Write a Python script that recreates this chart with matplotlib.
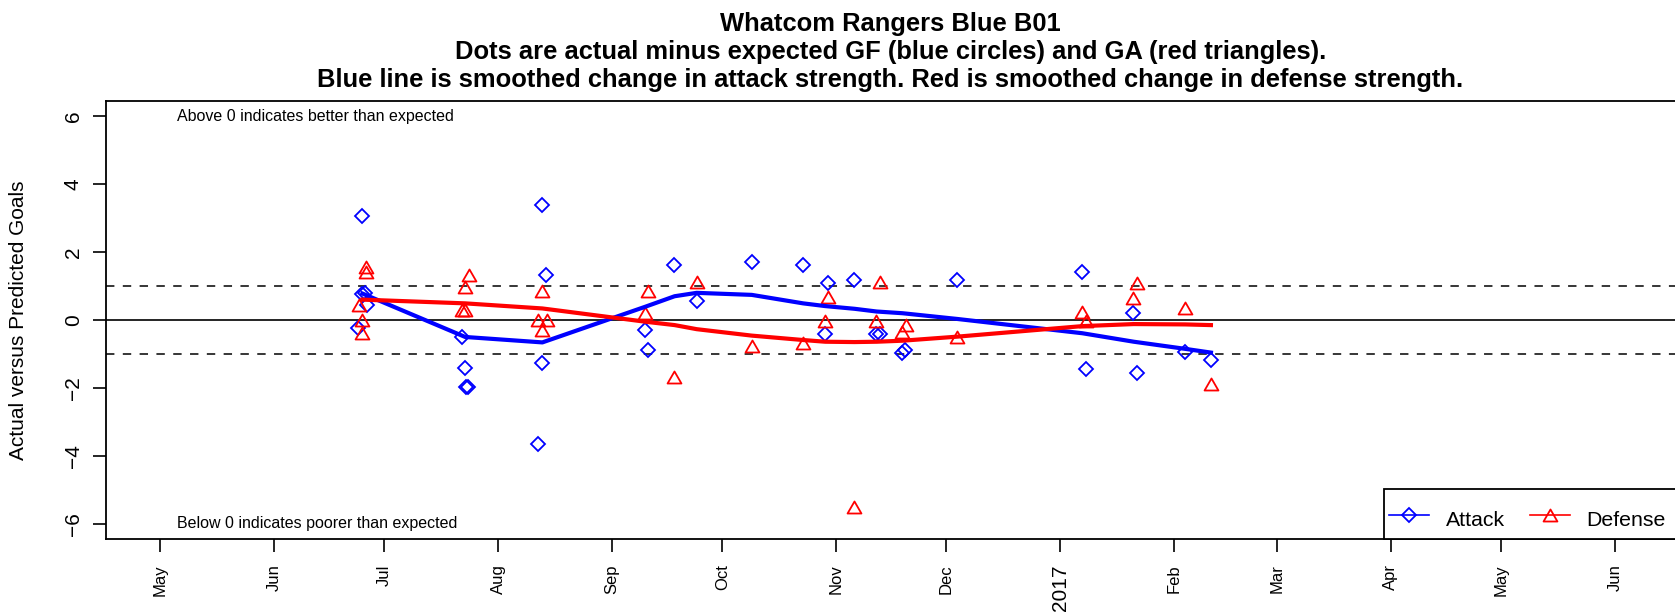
import matplotlib
matplotlib.use('Agg')
import matplotlib.pyplot as plt
from matplotlib.lines import Line2D
from matplotlib.patches import Rectangle
from matplotlib.path import Path
import numpy as np
import pandas as pd

plt.rcParams['font.family'] = ['Liberation Sans', 'DejaVu Sans']

title_lines = ['Whatcom Rangers Blue B01',
               'Dots are actual minus expected GF (blue circles) and GA (red triangles).',
               'Blue line is smoothed change in attack strength. Red is smoothed change in defense strength.']

# one entry per game
game_dates = ['2016-06-25'] * 5 + ['2016-07-23'] * 4 + ['2016-08-13'] * 4 + ['2016-09-10'] * 2 + \
             ['2016-09-18', '2016-09-24', '2016-10-09', '2016-10-23'] + ['2016-10-29'] * 2 + \
             ['2016-11-06'] + ['2016-11-12'] * 2 + ['2016-11-19'] * 2 + ['2016-12-04'] + \
             ['2017-01-07'] * 2 + ['2017-01-21'] * 2 + ['2017-02-04', '2017-02-11']

attack = [3.06, 0.78, 0.80, 0.44, -0.25,
          -0.49, -1.42, -1.98, -1.98,
          3.38, 1.34, -1.27, -3.65,
          -0.29, -0.88,
          1.62, 0.56, 1.72, 1.62,
          1.08, -0.42,
          1.18,
          -0.42, -0.42,
          -0.96, -0.88,
          1.18,
          1.42, -1.44,
          0.22, -1.57,
          -0.93, -1.18]
attack_jitter = [-0.2, -0.2, 0.7, 1.2, -1.1,
                 -0.95, -0.05, 0.15, 0.7,
                 0.0, 1.0, 0.0, -1.1,
                 -0.05, 0.85,
                 -0.15, 0.0, 0.0, -0.1,
                 0.85, -0.05,
                 -0.1,
                 -0.2, 0.9,
                 -0.2, 0.7,
                 0.0,
                 -0.2, 0.9,
                 -0.1, 1.0,
                 -0.1, -0.1]

defense = [1.57, 1.42, 0.44, 0.0, -0.39,
           1.32, 0.96, 0.29, 0.29,
           0.86, 0.0, 0.0, -0.29,
           0.86, 0.20,
           -1.67, 1.13, -0.76, -0.69,
           0.69, -0.02,
           -5.51,
           1.11, -0.02,
           -0.15, -0.34,
           -0.51,
           0.24, -0.02,
           1.08, 0.64,
           0.36, -1.88]
defense_jitter = [0.9, 0.9, -0.8, 0.0, 0.0,
                  1.05, -0.05, -0.95, -0.05,
                  0.0, -1.1, 1.2, 0.0,
                  0.85, -0.05,
                  -0.15, 0.0, 0.0, -0.1,
                  0.85, -0.05,
                  -0.1,
                  0.9, -0.2,
                  1.0, 0.0,
                  0.0,
                  -0.2, 0.9,
                  1.0, -0.1,
                  -0.1, -0.1]

# smoothed strength change, one value per tournament / game day
smooth_dates = ['2016-06-25', '2016-07-23', '2016-08-13', '2016-09-10', '2016-09-18', '2016-09-24',
                '2016-10-09', '2016-10-23', '2016-10-29', '2016-11-06', '2016-11-12', '2016-11-19',
                '2016-12-04', '2017-01-07', '2017-01-21', '2017-02-04', '2017-02-11']
attack_smooth = [0.78, -0.50, -0.66, 0.39, 0.70, 0.80, 0.74, 0.49, 0.41, 0.33, 0.25, 0.20,
                 0.03, -0.39, -0.64, -0.85, -0.96]
defense_smooth = [0.60, 0.49, 0.34, -0.05, -0.15, -0.27, -0.46, -0.59, -0.64, -0.65, -0.64, -0.61,
                  -0.49, -0.18, -0.12, -0.13, -0.15]

month_ticks = pd.date_range('2016-05-01', '2017-06-01', freq='MS')
month_labels = [d.strftime('%Y') if d.month == 1 else d.strftime('%b') for d in month_ticks]
y_ticks = [-6, -4, -2, 0, 2, 4, 6]


def to_dates(dates, jitter):
    return pd.to_datetime(dates) + pd.to_timedelta(np.array(jitter), unit='D')


W, H = 1675, 616
fig = plt.figure(figsize=(W / 100, H / 100), dpi=100)
ax = fig.add_axes([106 / W, 1 - 539.3 / H, (W - 106) / W, (539.3 - 100.7) / H])

# equilateral open triangle like R's pch = 2
tri = Path([(0, 0.866), (-1, -0.866), (1, -0.866), (0, 0.866)],
           [Path.MOVETO, Path.LINETO, Path.LINETO, Path.CLOSEPOLY])

ax.axhline(0, color='black', lw=1.2, zorder=1)
ax.axhline(1, color='black', lw=1.1, ls=(0, (5.5, 5.5)), zorder=1)
ax.axhline(-1, color='black', lw=1.1, ls=(0, (5.5, 5.5)), zorder=1)

ax.plot(to_dates(game_dates, attack_jitter), attack, ls='none', marker='D', ms=7.1,
        mfc='none', mec='#0000FF', mew=1.3, zorder=2)
ax.plot(to_dates(game_dates, defense_jitter), defense, ls='none', marker=tri, ms=10,
        mfc='none', mec='#FF0000', mew=1.3, zorder=2)

ax.plot(pd.to_datetime(smooth_dates), attack_smooth, color='#0000FF', lw=3, zorder=3)
ax.plot(pd.to_datetime(smooth_dates), defense_smooth, color='#FF0000', lw=3, zorder=3)

ax.set_xlim(pd.Timestamp('2016-04-16 05:00'), pd.Timestamp('2017-06-17 08:00'))
ax.set_ylim(-6.46, 6.46)

ax.set_xticks(month_ticks)
ax.set_xticklabels(month_labels, rotation=90, fontsize=12)
for lbl in ax.get_xticklabels():
    if lbl.get_text().isdigit():
        lbl.set_fontsize(15)
ax.set_yticks(y_ticks)
ax.set_yticklabels(['\u2212' + str(-v) if v < 0 else str(v) for v in y_ticks],
                   rotation=90, va='center', fontsize=15)
ax.tick_params(axis='x', direction='out', length=9.6, width=1.2, pad=8.5)
ax.tick_params(axis='y', direction='out', length=9.6, width=1.2, pad=7)

for side in ['top', 'left', 'bottom']:
    ax.spines[side].set_linewidth(1.3)
ax.spines['right'].set_visible(False)

trans = ax.get_yaxis_transform()
ax.text(0.0454, 6, 'Above 0 indicates better than expected', transform=trans,
        fontsize=11.5, ha='left', va='center')
ax.text(0.0454, -6, 'Below 0 indicates poorer than expected', transform=trans,
        fontsize=11.5, ha='left', va='center')

fig.text(19 / W, 1 - 320 / H, 'Actual versus Predicted Goals', rotation=90,
         ha='center', va='center', fontsize=15)

title_x = (106 + W) / 2 / W
for i, line in enumerate(title_lines):
    fig.text(title_x, 1 - (31 + 28 * i) / H, line, ha='center', va='baseline',
             fontsize=18.4, fontweight='bold')

# legend box runs past the right edge of the picture, as in the original
leg_x0 = (1384 - 106) / (W - 106)
leg_h = (539.3 - 489) / (539.3 - 100.7)
ax.add_patch(Rectangle((leg_x0, 0), 1.05 - leg_x0, leg_h, transform=ax.transAxes,
                       facecolor='white', edgecolor='black', lw=1.3, clip_on=False, zorder=4))

handles = [Line2D([], [], color='#0000FF', lw=1.2, marker='D', ms=7.1, mfc='none', mew=1.3),
           Line2D([], [], color='#FF0000', lw=1.2, marker=tri, ms=10, mfc='none', mew=1.3)]
leg = ax.legend(handles, ['Attack', 'Defense'], loc='lower left',
                bbox_to_anchor=(leg_x0, 0), ncol=2, fontsize=15.3, frameon=False,
                borderpad=0.25, borderaxespad=0, handlelength=1.85, handleheight=1.75,
                handletextpad=0.8, columnspacing=1.2)
leg.set_zorder(5)

fig.savefig('out.png', dpi=100)
